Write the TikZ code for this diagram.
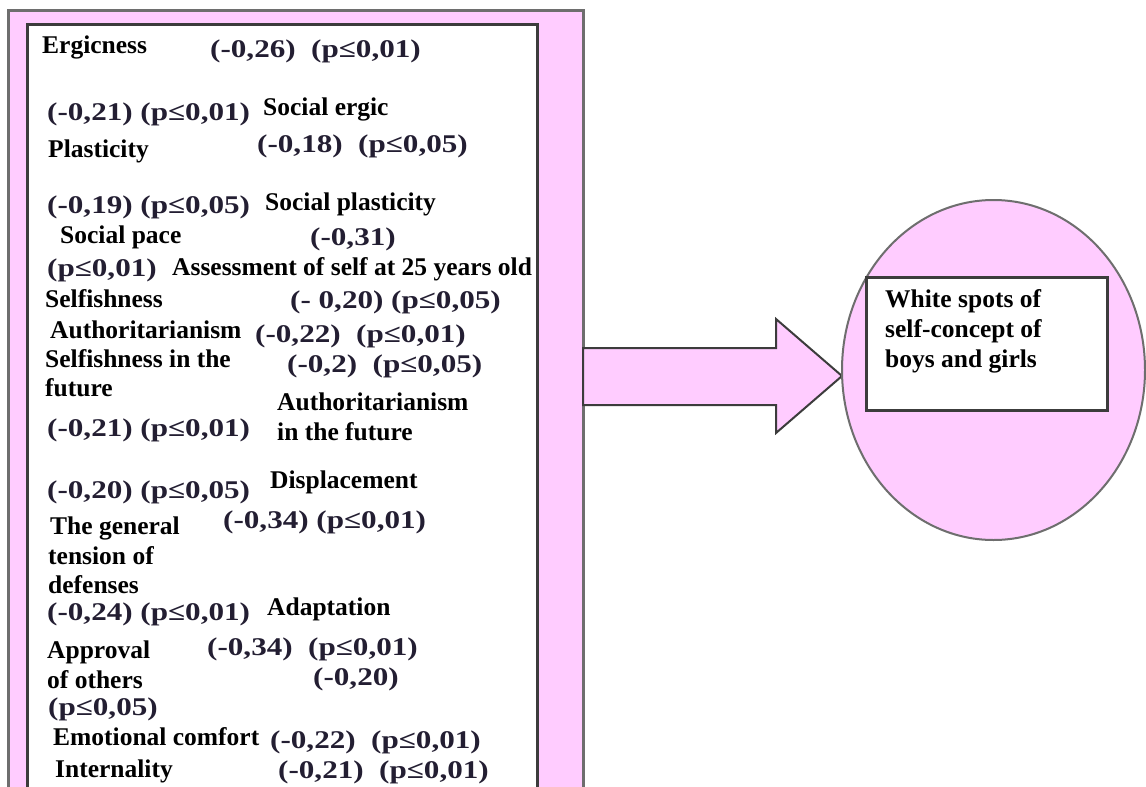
\documentclass[tikz,border=0pt]{standalone}
\usepackage{fontspec}
\setmainfont{Liberation Serif}
\newfontfamily\txtfam{Liberation Serif}
\newfontfamily\stretchfam[FakeStretch=1.22]{Liberation Serif}
\definecolor{pinkfill}{RGB}{255,204,255}
\definecolor{outergray}{RGB}{110,110,110}
\definecolor{innergray}{RGB}{60,60,60}
\definecolor{numcol}{RGB}{35,30,50}
\newcommand\txtfnt{\txtfam\fontsize{25.5}{28}\selectfont\bfseries}
\newcommand\numfnt{\stretchfam\fontsize{25.5}{28}\selectfont\bfseries}
\tikzset{
  lbl/.style={anchor=base west, inner sep=0pt, font=\txtfnt, text=black},
  num/.style={anchor=base west, inner sep=0pt, font=\numfnt, text=numcol},
  outerframe/.style={fill=pinkfill, draw=outergray, line width=3pt},
  innerframe/.style={fill=white, draw=innergray, line width=3pt},
  blockarrow/.style={fill=pinkfill, draw=innergray, line width=2pt, line join=miter},
  goalcircle/.style={fill=pinkfill, draw=outergray, line width=2pt},
  goalbox/.style={fill=white, draw=innergray, line width=3pt}
}
\begin{document}
\begin{tikzpicture}[x=1pt,y=-1pt]
\clip (0,0) rectangle (1146,787);
\fill[white] (0,0) rectangle (1146,787);
% frames
\draw[outerframe] (8,10) rectangle (583,830);
\draw[innerframe] (27,24) rectangle (537,830);
% block arrow
\coordinate (ashaft1) at (583,348);
\coordinate (abase1) at (776,348);
\coordinate (ahead1) at (776,319);
\coordinate (atip) at (842,376);
\coordinate (ahead2) at (776,433);
\coordinate (abase2) at (776,405);
\coordinate (ashaft2) at (583,405);
\draw[blockarrow] (ashaft1) -- (abase1) -- (ahead1) -- (atip) -- (ahead2) -- (abase2) -- (ashaft2) -- cycle;
% circle and box
\draw[goalcircle] (993.5,370) ellipse [x radius=151.5, y radius=170];
\draw[goalbox] (866,277) rectangle (1107,410);
\node[lbl] (w1) at (885,307) {White spots of};
\node[lbl] (w2) at (885,337) {self-concept of};
\node[lbl] (w3) at (885,367) {boys and girls};
% labels
\node[lbl] (t1) at (42,53) {Ergicness};
\node[lbl] (t2) at (263,115) {Social ergic};
\node[lbl] (t3) at (48,157) {Plasticity};
\node[lbl] (t4) at (265,210) {Social plasticity};
\node[lbl] (t5) at (60,243) {Social pace};
\node[lbl] (t6) at (172,275) {Assessment of self at 25 years old};
\node[lbl] (t7) at (45,307) {Selfishness};
\node[lbl] (t8) at (50,338) {Authoritarianism};
\node[lbl] (t9) at (45,367) {Selfishness in the};
\node[lbl] (t10) at (45,396) {future};
\node[lbl] (t11) at (277,410) {Authoritarianism};
\node[lbl] (t12) at (277,440) {in the future};
\node[lbl] (t13) at (270,488) {Displacement};
\node[lbl] (t14) at (50,534) {The general};
\node[lbl] (t15) at (48,564) {tension of};
\node[lbl] (t16) at (48,593) {defenses};
\node[lbl] (t17) at (267,615) {Adaptation};
\node[lbl] (t18) at (47,658) {Approval};
\node[lbl] (t19) at (47,688) {of others};
\node[lbl] (t20) at (53,745) {Emotional comfort};
\node[lbl] (t21) at (55,777) {Internality};
% numbers
\node[num] (n1) at (210,57) {(-0,26)\ \ (p≤0,01)};
\node[num] (n2) at (47,120) {(-0,21) (p≤0,01)};
\node[num] (n3) at (257,152) {(-0,18)\ \ (p≤0,05)};
\node[num] (n4) at (47,213) {(-0,19) (p≤0,05)};
\node[num] (n5) at (310,245) {(-0,31)};
\node[num] (n6) at (47,276) {(p≤0,01)};
\node[num] (n7) at (290,308) {(-\ 0,20) (p≤0,05)};
\node[num] (n8) at (255,342) {(-0,22)\ \ (p≤0,01)};
\node[num] (n9) at (287,372) {(-0,2)\ \ (p≤0,05)};
\node[num] (n10) at (47,436) {(-0,21) (p≤0,01)};
\node[num] (n11) at (47,498) {(-0,20) (p≤0,05)};
\node[num] (n12) at (223,528) {(-0,34) (p≤0,01)};
\node[num] (n13) at (47,620) {(-0,24) (p≤0,01)};
\node[num] (n14) at (207,655) {(-0,34)\ \ (p≤0,01)};
\node[num] (n15) at (313,685) {(-0,20)};
\node[num] (n16) at (48,715) {(p≤0,05)};
\node[num] (n17) at (270,748) {(-0,22)\ \ (p≤0,01)};
\node[num] (n18) at (278,778) {(-0,21)\ \ (p≤0,01)};
\end{tikzpicture}
\end{document}
